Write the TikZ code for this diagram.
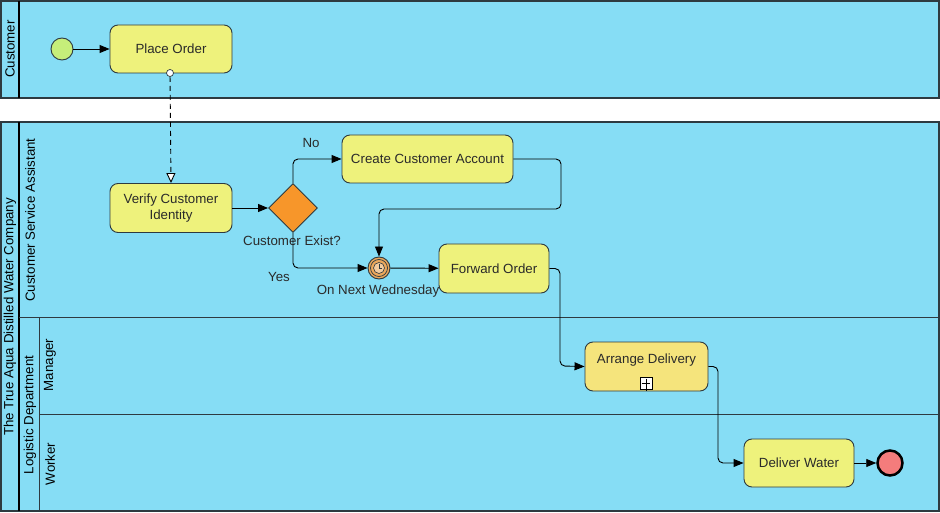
\documentclass[tikz,border=0pt]{standalone}
\usepackage{fontspec}
\setmainfont{Liberation Sans}
\usetikzlibrary{arrows.meta,shapes.geometric}
\definecolor{lanebg}{HTML}{86DDF5}
\definecolor{linecol}{HTML}{2E3A40}
\definecolor{taskfill}{HTML}{EEF27C}
\definecolor{subfill}{HTML}{F5E47C}
\definecolor{gwfill}{HTML}{F7962A}
\definecolor{startfill}{HTML}{C6EE7A}
\definecolor{endfill}{HTML}{F47C7C}
\definecolor{timerfill}{HTML}{EBA85C}
\definecolor{txt}{HTML}{2A2A2A}
\tikzset{
  pool/.style={draw=linecol, line width=1.3pt, fill=lanebg},
  laneline/.style={draw=linecol, line width=1pt},
  hdrline/.style={draw=black, line width=2pt},
  task/.style={draw=linecol, line width=0.9pt, fill=taskfill, rounded corners=8pt,
    align=center, inner sep=2pt, text=txt},
  evt/.style={circle, draw=linecol, line width=0.9pt, inner sep=0pt, minimum size=22pt},
  flow/.style={draw=black, line width=0.9pt, rounded corners=5pt,
    -{Triangle[length=10pt,width=8pt]}},
  msg/.style={draw=black, line width=0.9pt, dashed, dash pattern=on 5pt off 4pt,
    -{Triangle[open,fill=white,length=10pt,width=9pt]}},
  lbl/.style={text=txt, inner sep=1pt},
  lanelbl/.style={rotate=90, text=black, inner sep=0pt}
}
\begin{document}
\begin{tikzpicture}[x=1pt,y=-1pt,font=\fontsize{13.3}{16}\selectfont]
\useasboundingbox (0,0) rectangle (940,513);
\fill[white] (0,0) rectangle (940,513);
% Customer pool
\draw[pool] (1,1) rectangle (939,98);
\draw[hdrline] (19,1) -- (19,98);
\node[lanelbl] (lcust) at (10,49) {Customer};
% Company pool
\draw[pool] (1,122) rectangle (939,511);
\draw[hdrline] (19,122) -- (19,511);
\draw[laneline] (19,317) -- (939,317);
\draw[laneline] (39,317) -- (39,511);
\draw[laneline] (39,414) -- (939,414);
\node[lanelbl] (lcomp) at (10,317) {The True Aqua Distilled Water Company};
\node[lanelbl] (lcsa) at (30,220) {Customer Service Assistant};
\node[lanelbl] (llog) at (30,415) {Logistic Department};
\node[lanelbl] (lman) at (50,365) {Manager};
\node[lanelbl] (lwork) at (50,464) {Worker};
% Nodes
\node[evt, fill=startfill] (start) at (62,49) {};
\node[task, minimum width=122pt, minimum height=48pt] (place) at (171,49) {Place Order};
\node[circle, draw=linecol, fill=white, line width=0.7pt, minimum size=7pt, inner sep=0pt] (msgdot) at (170,73) {};
\node[task, minimum width=122pt, minimum height=49pt] (verify) at (171,208) {Verify Customer\\Identity};
\node[diamond, aspect=1, draw=linecol, line width=0.9pt, fill=gwfill, minimum width=49pt, minimum height=49pt, inner sep=0pt] (gw) at (293,208) {};
\node[lbl] (gwlbl) at (292,241) {Customer Exist?};
\node[task, minimum width=171pt, minimum height=48pt] (create) at (427.5,159) {Create Customer Account};
\node[evt, fill=timerfill] (timer) at (379,268) {};
\draw[linecol, line width=0.7pt] (timer.center) circle[radius=8.5pt];
\draw[linecol, line width=0.6pt, fill=white!40!timerfill] (timer.center) circle[radius=5.5pt];
\draw[linecol, line width=0.7pt] (379,264) -- (379,268) -- (382,268);
\node[lbl] (tlbl) at (378,291) {On Next Wednesday};
\node[task, minimum width=110pt, minimum height=49pt] (forward) at (494,268.5) {Forward Order};
\node[task, fill=subfill, minimum width=123pt, minimum height=49pt, text depth=15pt] (arrange) at (646.5,366.5) {Arrange Delivery};
\node[draw=black, fill=white, line width=0.7pt, minimum size=12pt, inner sep=0pt] (plus) at (646,383) {};
\draw[black, line width=0.8pt] (plus.north) ++(0,2) -- ([yshift=-2pt]plus.south) (plus.west) ++(2,0) -- ([xshift=-2pt]plus.east);
\node[task, minimum width=110pt, minimum height=48pt] (deliver) at (799,463) {Deliver Water};
\node[evt, fill=endfill, line width=2.5pt, draw=black, minimum size=25pt] (end) at (890,463) {};
\node[lbl] (nolbl) at (311,143) {No};
\node[lbl] (yeslbl) at (279,277) {Yes};
% helper coordinates
\coordinate (c1) at (561,209);
\coordinate (c2) at (560,366);
\coordinate (c3) at (718,463);
% Connectors
\draw[flow] (start) -- (place);
\draw[msg] (msgdot) -- (verify.north);
\draw[flow] (verify) -- (gw);
\draw[flow] (gw.north) |- (create.west);
\draw[flow] (gw.south) |- (timer.west);
\draw[flow] (create.east) -| (c1) -| (timer.north);
\draw[flow] (timer) -- (forward);
\draw[flow] (forward.east) -| (c2) -- (arrange.west);
\draw[flow] (arrange.east) -| (c3) -- (deliver.west);
\draw[flow] (deliver) -- (end);
\end{tikzpicture}
\end{document}
